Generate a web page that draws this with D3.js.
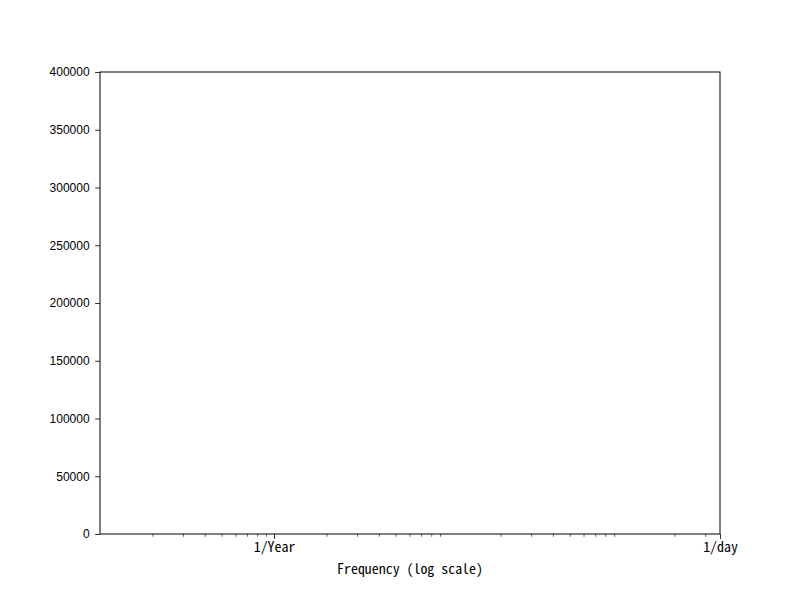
<!DOCTYPE html>
<html>
<head>
<meta charset="utf-8">
<script src="https://cdn.jsdelivr.net/npm/d3@7"></script>
<style>
  body { margin: 0; background: #fff; }
  svg { display: block; }
  .ylab { font-family: "Liberation Sans", Arial, sans-serif; font-size: 12px; }
  .xlab { font-family: "Noto Sans Mono CJK JP", "Liberation Mono", monospace; font-size: 13.9px; }
</style>
</head>
<body>
<svg id="chart" width="800" height="600"></svg>
<script>
// Data (axes only; the reference chart has no plotted series)
const xDomain = [0.1, 365];
const yDomain = [0, 400000];
const yTickValues = [0, 50000, 100000, 150000, 200000, 250000, 300000, 350000, 400000];
const xTickValues = [1, 365];
const xTickLabels = ["1/Year", "1/day"];
const xMinorTicks = [0.2, 0.3, 0.4, 0.5, 0.6, 0.7, 0.8, 0.9, 2, 3, 4, 5, 6, 7, 8, 9, 20, 30, 40, 50, 60, 70, 80, 90, 200, 300];
const xAxisTitle = "Frequency (log scale)";

const svg = d3.select("#chart");
const mLeft = 100, mRight = 720, mTop = 72, mBottom = 534;

const x = d3.scaleLog().domain(xDomain).range([mLeft, mRight]);
const y = d3.scaleLinear().domain(yDomain).range([mBottom, mTop]);

// Y axis
const yAxis = svg.append("g").attr("transform", `translate(${mLeft},0)`)
  .call(d3.axisLeft(y).tickValues(yTickValues).tickFormat(d3.format("d")).tickSize(4.9).tickPadding(5.5));
yAxis.select(".domain").remove();
yAxis.attr("font-family", null).attr("font-size", null);
yAxis.selectAll("text").attr("class", "ylab").attr("fill", "#000");
yAxis.selectAll("line").attr("stroke", "#000").attr("stroke-width", 0.8);

// X minor ticks
const xMinor = svg.append("g").attr("transform", `translate(0,${mBottom})`)
  .call(d3.axisBottom(x).tickValues(xMinorTicks).tickFormat("").tickSize(2.8));
xMinor.select(".domain").remove();
xMinor.selectAll("line").attr("stroke", "#000").attr("stroke-width", 0.6);

// X major ticks
const xAxis = svg.append("g").attr("transform", `translate(0,${mBottom})`)
  .call(d3.axisBottom(x).tickValues(xTickValues).tickFormat((d, i) => xTickLabels[i]).tickSize(4.9).tickPadding(3));
xAxis.select(".domain").remove();
xAxis.attr("font-family", null).attr("font-size", null);
xAxis.selectAll("text").attr("class", "xlab").attr("fill", "#000");
xAxis.selectAll("line").attr("stroke", "#000").attr("stroke-width", 0.8);

// Frame
svg.append("rect").attr("x", mLeft).attr("y", mTop).attr("width", mRight - mLeft).attr("height", mBottom - mTop)
  .attr("fill", "none").attr("stroke", "#000").attr("stroke-width", 1);

// Axis title
svg.append("text").attr("class", "xlab").attr("x", (mLeft + mRight) / 2).attr("y", 574)
  .attr("text-anchor", "middle").text(xAxisTitle);
</script>
</body>
</html>
